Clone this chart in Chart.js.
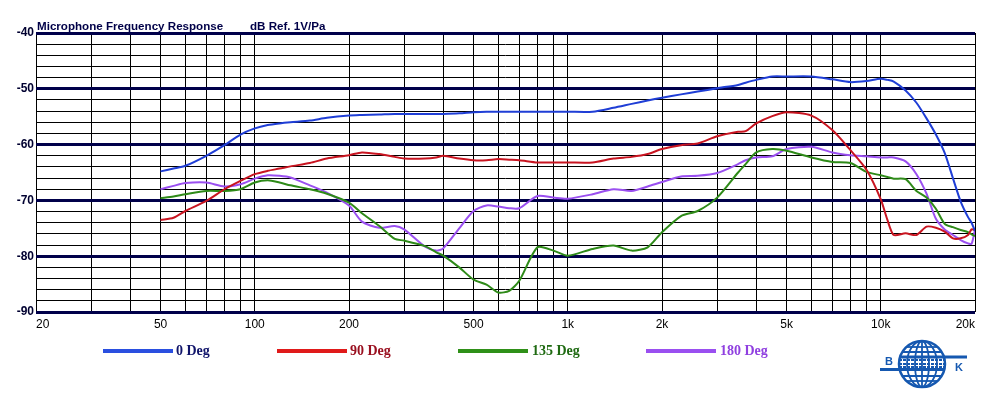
<!DOCTYPE html>
<html>
<head>
<meta charset="utf-8">
<script src="https://cdn.jsdelivr.net/npm/chart.js@4/dist/chart.umd.min.js"></script>
<style>
  body { margin: 0; background: #fff; }
  #wrap { position: relative; width: 1006px; height: 397px; overflow: hidden; }
  #chart { position: absolute; left: 0; top: 0; }
  .title { position: absolute; top: 20px; font: bold 11.6px "Liberation Sans", Arial, sans-serif; line-height: 12px;
           color: #000048; white-space: nowrap; }
  .lgline { position: absolute; top: 349px; width: 70px; height: 4px; }
  .lgtext { position: absolute; top: 344px; font: bold 14px "Liberation Serif", "Times New Roman", serif; line-height: 14px; white-space: nowrap; }
  #logo { position: absolute; left: 876px; top: 336px; }
</style>
</head>
<body>
<div id="wrap">
  <canvas id="chart" width="1006" height="397"></canvas>
  <div class="title" style="left:37px">Microphone Frequency Response</div>
  <div class="title" style="left:250px">dB Ref. 1V/Pa</div>

  <div class="lgline" style="left:103px;background:#2a4fe0"></div>
  <div class="lgtext" style="left:176px;color:#10146a">0 Deg</div>
  <div class="lgline" style="left:277px;background:#e01a1a"></div>
  <div class="lgtext" style="left:350px;color:#9a1020">90 Deg</div>
  <div class="lgline" style="left:458px;background:#2f9018"></div>
  <div class="lgtext" style="left:532px;color:#1f6a12">135 Deg</div>
  <div class="lgline" style="left:646px;background:#9a4ff0"></div>
  <div class="lgtext" style="left:720px;color:#9040e0">180 Deg</div>

  <svg id="logo" width="96" height="56" viewBox="0 0 96 56">
    <g stroke="#1558b0" fill="none">
      <circle cx="46" cy="28" r="23" stroke-width="2.5"/>
      <ellipse cx="46" cy="28" rx="15" ry="23" stroke-width="1.8"/>
      <ellipse cx="46" cy="28" rx="7" ry="23" stroke-width="1.8"/>
      <line x1="46" y1="5" x2="46" y2="51" stroke-width="1.8"/>
      <line x1="30" y1="11" x2="62" y2="11" stroke-width="1.8"/>
      <line x1="26" y1="16" x2="66" y2="16" stroke-width="1.8"/>
      <line x1="26" y1="40" x2="66" y2="40" stroke-width="1.8"/>
      <line x1="30" y1="45" x2="62" y2="45" stroke-width="1.8"/>
      <line x1="23" y1="24" x2="69" y2="24" stroke-width="2" stroke-dasharray="3 1"/>
      <line x1="23" y1="28" x2="69" y2="28" stroke-width="2" stroke-dasharray="3 1"/>
      <line x1="23" y1="31" x2="69" y2="31" stroke-width="2" stroke-dasharray="3 1"/>
      <line x1="4" y1="33.5" x2="68" y2="33.5" stroke-width="3"/>
      <line x1="24" y1="21" x2="91" y2="21" stroke-width="3"/>
    </g>
    <text x="9" y="29" font-family="Liberation Sans, Arial, sans-serif" font-weight="bold" font-size="11" fill="#1558b0">B</text>
    <text x="79" y="35" font-family="Liberation Sans, Arial, sans-serif" font-weight="bold" font-size="11" fill="#1558b0">K</text>
  </svg>
</div>

<script>
'use strict'

// frequencies (Hz) where the curves were read
const freqs = [50, 55, 60, 70, 80, 90, 100, 110, 120, 130, 150, 170, 200, 220, 250, 280, 300, 350, 380, 400, 450,
  500, 550, 600, 650, 700, 800, 900, 1000, 1200, 1400, 1600, 1800, 2000, 2300, 2600, 3000, 3500, 3700, 4000, 4500,
  5000, 6000, 7000, 8000, 9000, 10000, 10500, 11000, 12000, 13000, 14000, 15000, 16000, 17000, 18000, 19000, 19500, 20000];

// dB ref 1V/Pa
const deg0 = [-64.8, -64.3, -63.8, -62.0, -60.1, -58.2, -57.1, -56.5, -56.2, -56.0, -55.7, -55.2, -54.8, -54.7, -54.6, -54.5, -54.5, -54.5, -54.5, -54.5, -54.4,
  -54.2, -54.1, -54.1, -54.1, -54.1, -54.1, -54.1, -54.1, -54.1, -53.4, -52.7, -52.1, -51.6, -51.0, -50.5, -49.9, -49.3, -48.9, -48.4, -47.8,
  -47.8, -47.8, -48.3, -48.8, -48.6, -48.2, -48.4, -48.7, -50.3, -52.5, -55.3, -58.2, -61.5, -66.0, -70.2, -73.0, -74.0, -75.5];

const deg90 = [-73.5, -73.1, -71.9, -70.1, -68.0, -66.5, -65.3, -64.7, -64.3, -63.9, -63.3, -62.5, -61.9, -61.4, -61.7, -62.2, -62.5, -62.5, -62.3, -62.0, -62.5,
  -62.8, -62.8, -62.6, -62.7, -62.8, -63.2, -63.2, -63.2, -63.2, -62.5, -62.2, -61.7, -60.8, -60.1, -59.8, -58.5, -57.7, -57.6, -56.2, -54.9,
  -54.2, -54.8, -57.4, -61.0, -64.5, -69.8, -73.5, -76.2, -75.9, -76.2, -74.7, -74.9, -75.6, -76.8, -76.8, -76.2, -75.2, -75.3];

const deg135 = [-69.6, -69.3, -68.9, -68.3, -68.3, -68.0, -66.8, -66.4, -66.8, -67.3, -68.0, -68.8, -70.4, -72.3, -74.6, -76.9, -77.2, -78.2, -79.3, -79.9, -82.0,
  -84.2, -85.1, -86.5, -86.2, -84.4, -78.4, -79.0, -79.9, -78.7, -78.1, -79.0, -78.4, -75.7, -72.8, -71.9, -69.5, -65.0, -63.5, -61.4, -60.8,
  -61.1, -62.3, -63.1, -63.3, -64.9, -65.5, -65.8, -66.1, -66.2, -68.3, -69.5, -71.5, -74.2, -74.8, -75.3, -75.7, -76.1, -76.4];

const deg180 = [-68.0, -67.4, -66.9, -66.8, -67.5, -67.1, -66.1, -65.5, -65.6, -65.9, -67.3, -68.6, -70.9, -73.8, -74.9, -74.6, -75.2, -78.3, -79.0, -78.6, -75.0,
  -71.9, -70.9, -71.1, -71.4, -71.4, -69.2, -69.5, -69.7, -68.9, -68.0, -68.3, -67.5, -66.7, -65.7, -65.6, -65.1, -63.5, -62.8, -62.3, -62.1,
  -60.8, -60.4, -61.4, -61.9, -62.1, -62.3, -62.3, -62.3, -63.0, -65.3, -68.8, -73.3, -75.2, -76.2, -77.1, -77.7, -77.8, -75.2];

const seriesNames = ['0 Deg', '90 Deg', '135 Deg', '180 Deg'];
const seriesColors = ['#1f3ed6', '#c81420', '#2e8a18', '#9a4ff0'];

// vertical grid positions and the ones that get a label
const xGrid = [20, 30, 40, 50, 60, 70, 80, 90, 100, 200, 300, 400, 500, 600, 700, 800, 900, 1000,
  2000, 3000, 4000, 5000, 6000, 7000, 8000, 9000, 10000, 20000];
const xLabels = { 20: '20', 50: '50', 100: '100', 200: '200', 500: '500', 1000: '1k', 2000: '2k', 5000: '5k', 10000: '10k', 20000: '20k' };

// horizontal grid every 2 dB, labelled every 10 dB
const yGrid = [];
for (let v = -90; v <= -40; v += 2) yGrid.push(v);

function toPoints(vals) {
  return freqs.map((f, i) => ({ x: f, y: vals[i] }));
}

const allSeries = [deg0, deg90, deg135, deg180];

new Chart(document.getElementById('chart'), {
  type: 'line',
  data: {
    datasets: allSeries.map((vals, i) => ({
      label: seriesNames[i],
      data: toPoints(vals),
      borderColor: seriesColors[i],
      borderWidth: 2,
      pointRadius: 0,
      tension: 0.25,
      fill: false
    }))
  },
  options: {
    responsive: false,
    animation: false,
    layout: { padding: { left: 0, top: 33, right: 31, bottom: 55 } },
    plugins: { legend: { display: false }, tooltip: { enabled: false } },
    scales: {
      x: {
        type: 'logarithmic',
        min: 20,
        max: 20000,
        afterBuildTicks: (scale) => { scale.ticks = xGrid.map(v => ({ value: v })); },
        afterFit: (scale) => { scale.height = 30; },
        border: { display: false },
        grid: { color: '#000', lineWidth: 1, drawTicks: false },
        ticks: {
          autoSkip: false,
          maxRotation: 0,
          align: 'inner',
          padding: 5,
          color: '#000',
          font: { family: '"Liberation Sans", Arial, sans-serif', size: 12 },
          callback: (v) => xLabels[v] || ''
        }
      },
      y: {
        min: -90,
        max: -40,
        afterBuildTicks: (scale) => { scale.ticks = yGrid.map(v => ({ value: v })); },
        afterFit: (scale) => { scale.width = 36; },
        border: { display: false },
        grid: {
          drawTicks: false,
          color: (c) => (c.tick.value % 10 === 0 ? '#00004a' : '#000'),
          lineWidth: (c) => (c.tick.value % 10 === 0 ? 3 : 1)
        },
        ticks: {
          autoSkip: false,
          padding: 2,
          color: '#000030',
          font: { family: '"Liberation Sans", Arial, sans-serif', size: 12, weight: 'bold' },
          callback: (v) => (v % 10 === 0 ? String(v) : '')
        }
      }
    }
  }
});
</script>
</body>
</html>
